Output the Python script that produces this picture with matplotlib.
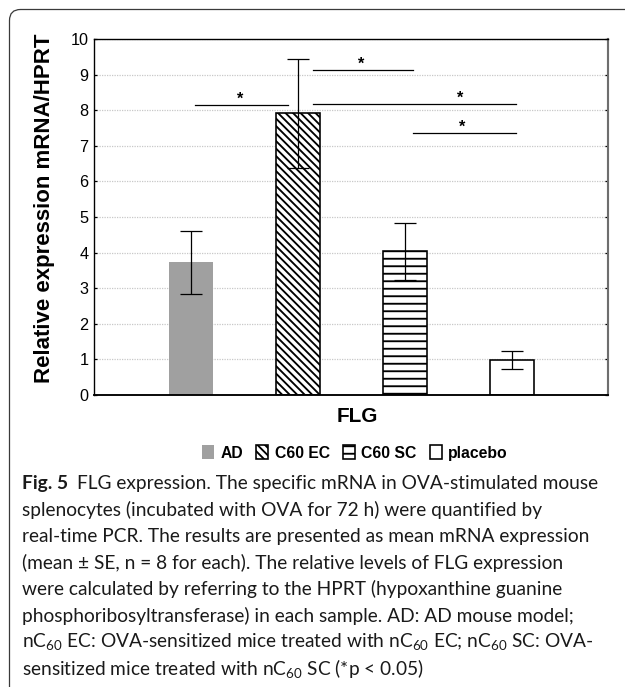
import matplotlib
matplotlib.use("Agg")
import matplotlib.pyplot as plt
from matplotlib.patches import FancyBboxPatch

# Datos del grafico
groups = ["AD", "C60 EC", "C60 SC", "placebo"]
means = [3.73, 7.92, 4.04, 0.99]
errors = [0.89, 1.53, 0.80, 0.25]

# lineas de significancia: (x inicio, x fin, y), posicion de la estrella
sig_x0 = [0.04, 1.14, 1.14, 2.08]
sig_x1 = [0.91, 2.08, 3.04, 3.04]
sig_y = [8.15, 9.12, 8.17, 7.35]
star_x = [0.46, 1.59, 2.52, 2.54]

caption = [
    "splenocytes (incubated with OVA for 72 h) were quantified by",
    "real-time PCR. The results are presented as mean mRNA expression",
    "(mean \u00b1 SE, n = 8 for each). The relative levels of FLG expression",
    "were calculated by referring to the HPRT (hypoxanthine guanine",
    "phosphoribosyltransferase) in each sample. AD: AD mouse model;",
    "nC$_{60}$ EC: OVA-sensitized mice treated with nC$_{60}$ EC; nC$_{60}$ SC: OVA-",
    "sensitized mice treated with nC$_{60}$ SC (*p < 0.05)",
]

plt.rcParams["font.family"] = ["Liberation Sans", "DejaVu Sans"]
plt.rcParams["mathtext.fontset"] = "custom"
plt.rcParams["mathtext.rm"] = "Lato"
plt.rcParams["mathtext.it"] = "Lato"

DPI = 90
W, H = 625, 687
fig = plt.figure(figsize=(W / DPI, H / DPI), dpi=DPI)

# marco redondeado (se sale por la derecha y por abajo)
frame = FancyBboxPatch((9.5, -30), 660, H - 9.5 + 30,
                       boxstyle="round,pad=0,rounding_size=11",
                       facecolor="none", edgecolor="#3a3a3a", linewidth=1.0,
                       transform=None)
fig.add_artist(frame)

ax = fig.add_axes([94.3 / W, 1 - 395 / H, 514 / W, 356 / H])

x = list(range(len(groups)))
styles = [
    dict(color="#a0a0a0", edgecolor="#a0a0a0", linewidth=0),
    dict(color="white", edgecolor="black", linewidth=1.3, hatch="\\\\\\\\"),
    dict(color="white", edgecolor="black", linewidth=1.3, hatch="--"),
    dict(color="white", edgecolor="black", linewidth=1.3),
]
plt.rcParams["hatch.linewidth"] = 1.5
bars = []
for i in x:
    b = ax.bar(x[i], means[i], width=0.41, label=groups[i], zorder=2, **styles[i])
    bars.append(b)
ax.errorbar(x, means, yerr=errors, fmt="none", ecolor="black",
            elinewidth=1.0, capsize=8.7, capthick=1.0, zorder=3)

# significancia
for i in range(len(sig_y)):
    ax.plot([sig_x0[i], sig_x1[i]], [sig_y[i], sig_y[i]], color="black", lw=1.0, zorder=3)
    ax.text(star_x[i], sig_y[i] + 0.04, "*", ha="center", va="baseline",
            fontsize=13, fontweight="bold")

ax.set_xlim(-0.905, 3.904)
ax.set_ylim(0, 10)
ax.set_yticks(range(0, 11))
ax.set_xticks([])
ax.tick_params(axis="y", direction="in", left=True, right=True, length=2.5,
               width=1.0, pad=4.8, labelsize=13)
ax.yaxis.grid(True, color="#c8c8c8", linestyle=(0, (1, 1)), linewidth=1.0)
ax.set_axisbelow(True)
for side in ["left", "top"]:
    ax.spines[side].set_linewidth(1.1)
ax.spines["bottom"].set_linewidth(1.5)
ax.spines["right"].set_color("#6e6e6e")
ax.spines["right"].set_linewidth(1.7)

fig.text(45 / W, 1 - 208 / H, "Relative expression mRNA/HPRT", rotation=90,
         ha="center", va="center", fontsize=17.8, fontweight="bold")
fig.text(357 / W, 1 - 417 / H, "FLG", ha="center", va="center",
         fontsize=16.6, fontweight="bold")

fig.legend(handles=[b[0] for b in bars], labels=groups, loc="center",
           bbox_to_anchor=(355 / W, 1 - 453 / H), ncol=4, frameon=False,
           prop={"weight": "bold", "size": 12.6}, handlelength=0.75,
           handleheight=0.95, handletextpad=0.4, columnspacing=0.85,
           borderpad=0, borderaxespad=0)

# pie de figura
cap_size = 15.3
cap_color = "#1a1a1a"
x0 = 22 / W
line_h = 26.3
t = fig.text(x0, 1 - 484 / H, "Fig. 5", fontsize=cap_size, fontweight="bold",
             family="Lato", color=cap_color, va="center")
fig.canvas.draw()
bb = t.get_window_extent()
fig.text((bb.x1 + 9) / W, 1 - 484 / H,
         "FLG expression. The specific mRNA in OVA-stimulated mouse",
         fontsize=cap_size, family="Lato", color=cap_color, va="center")
for i, line in enumerate(caption):
    fig.text(x0, 1 - (484 + line_h * (i + 1)) / H, line, fontsize=cap_size,
             family="Lato", color=cap_color, va="center")

fig.savefig("out.png", dpi=DPI)
